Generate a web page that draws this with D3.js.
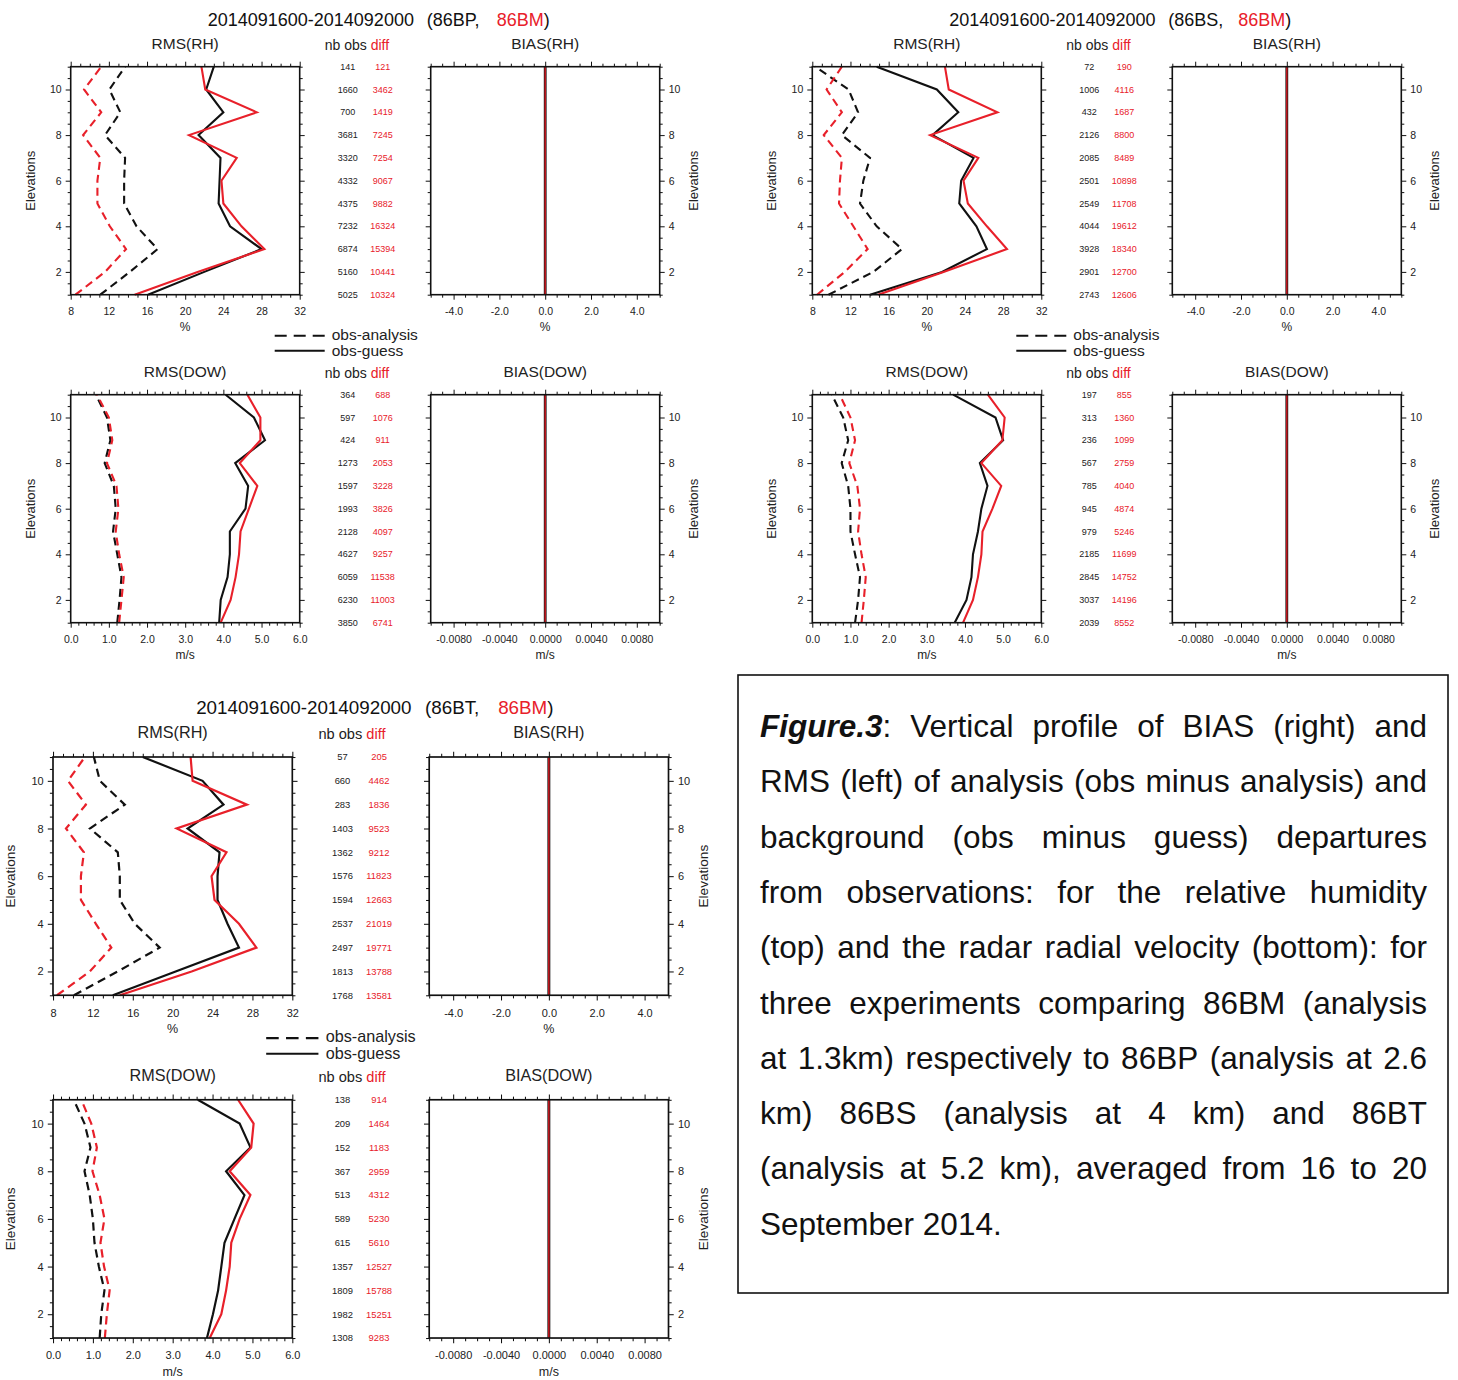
<!DOCTYPE html>
<html>
<head>
<meta charset="utf-8">
<script src="https://cdn.jsdelivr.net/npm/d3@7"></script>
<style>
  body { margin: 0; background: #fff; }
  svg { display: block; }
  text { font-family: "Liberation Sans", Arial, Helvetica, sans-serif; }
</style>
</head>
<body>
<svg id="fig" width="1458" height="1380"></svg>
<script>
// ---------------------------------------------------------------
// Profiles of obs-minus-analysis / obs-minus-guess statistics.
// Every series runs from elevation 1 (bottom) to elevation 11 (top).
// ---------------------------------------------------------------
const elevations = [1, 2, 3, 4, 5, 6, 7, 8, 9, 10, 11];
const period = "2014091600-2014092000";
const refExp = "86BM";
const experiments = ["86BP", "86BS", "86BT"];

// Tick values of the axes
const yMajor = [2, 4, 6, 8, 10];
const rhRmsTicks = [8, 12, 16, 20, 24, 28, 32];
const dowRmsTicks = [0, 1, 2, 3, 4, 5, 6];
const rhBiasTicks = [-4, -2, 0, 2, 4];
const dowBiasTicks = [-0.008, -0.004, 0, 0.004, 0.008];

// ---- 86BP vs 86BM ----
const bpRhAna = [11.1, 14.2, 17.1, 14.9, 13.6, 13.6, 13.7, 11.6, 13.2, 12.05, 13.7];
const bpRhAnaRef = [8.5, 11.6, 13.8, 12.1, 10.8, 10.8, 11.1, 9.3, 11.2, 9.4, 11.2];
const bpRhGue = [16.1, 22.0, 28.0, 24.7, 23.5, 23.6, 23.7, 21.4, 24.0, 22.2, 23.0];
const bpRhGueRef = [14.7, 21.3, 28.3, 25.9, 24.0, 23.8, 25.4, 20.4, 27.5, 22.1, 21.7];
const bpDowAna = [1.22, 1.28, 1.33, 1.22, 1.11, 1.18, 1.13, 0.89, 1.04, 0.95, 0.66];
const bpDowAnaRef = [1.27, 1.33, 1.39, 1.27, 1.18, 1.25, 1.20, 0.95, 1.09, 1.00, 0.69];
const bpDowGue = [3.89, 3.93, 4.11, 4.17, 4.17, 4.58, 4.65, 4.31, 5.09, 4.80, 4.06];
const bpDowGueRef = [3.93, 4.19, 4.32, 4.41, 4.45, 4.67, 4.89, 4.43, 4.97, 4.97, 4.63];
const bpRhNobs = [5025, 5160, 6874, 7232, 4375, 4332, 3320, 3681, 700, 1660, 141];
const bpRhDiff = [10324, 10441, 15394, 16324, 9882, 9067, 7254, 7245, 1419, 3462, 121];
const bpDowNobs = [3850, 6230, 6059, 4627, 2128, 1993, 1597, 1273, 424, 597, 364];
const bpDowDiff = [6741, 11003, 11538, 9257, 4097, 3826, 3228, 2053, 911, 1076, 688];

// ---- 86BS vs 86BM ----
const bsRhAna = [9.7, 14.4, 17.4, 14.75, 13.0, 13.35, 14.05, 11.1, 12.8, 11.8, 8.3];
const bsRhAnaRef = [8.5, 11.4, 13.8, 12.3, 10.8, 10.9, 11.1, 9.2, 11.1, 9.5, 11.1];
const bsRhGue = [14.05, 21.6, 26.3, 25.2, 23.4, 23.6, 24.9, 20.6, 23.3, 21.05, 14.75];
const bsRhGueRef = [14.9, 21.75, 28.4, 26.3, 24.3, 23.85, 25.4, 20.35, 27.4, 22.3, 21.9];
const bsDowAna = [1.12, 1.20, 1.25, 1.12, 1.00, 1.00, 0.94, 0.77, 0.94, 0.81, 0.51];
const bsDowAnaRef = [1.29, 1.35, 1.40, 1.29, 1.20, 1.25, 1.18, 0.97, 1.12, 1.00, 0.72];
const bsDowGue = [3.73, 4.04, 4.17, 4.21, 4.34, 4.43, 4.59, 4.39, 5.00, 4.80, 3.69];
const bsDowGueRef = [3.95, 4.21, 4.34, 4.43, 4.46, 4.72, 4.95, 4.43, 4.98, 5.04, 4.60];
const bsRhNobs = [2743, 2901, 3928, 4044, 2549, 2501, 2085, 2126, 432, 1006, 72];
const bsRhDiff = [12606, 12700, 18340, 19612, 11708, 10898, 8489, 8800, 1687, 4116, 190];
const bsDowNobs = [2039, 3037, 2845, 2185, 979, 945, 785, 567, 236, 313, 197];
const bsDowDiff = [8552, 14196, 14752, 11699, 5246, 4874, 4040, 2759, 1099, 1360, 855];

// ---- 86BT vs 86BM ----
const btRhAna = [10.1, 14.5, 18.7, 16.2, 14.7, 14.7, 14.5, 11.7, 15.2, 12.7, 12.1];
const btRhAnaRef = [8.4, 11.7, 13.85, 12.3, 10.8, 10.8, 11.1, 9.3, 11.3, 9.5, 11.2];
const btRhGue = [14.0, 20.3, 26.65, 25.5, 24.5, 24.5, 24.7, 21.5, 25.1, 23.0, 17.0];
const btRhGueRef = [14.7, 21.9, 28.4, 26.65, 24.2, 23.9, 25.4, 20.4, 27.45, 22.0, 21.8];
const btDowAna = [1.17, 1.21, 1.29, 1.15, 1.04, 1.00, 0.92, 0.79, 0.94, 0.79, 0.52];
const btDowAnaRef = [1.30, 1.35, 1.42, 1.28, 1.19, 1.29, 1.17, 0.99, 1.10, 0.96, 0.71];
const btDowGue = [3.86, 4.01, 4.14, 4.22, 4.30, 4.55, 4.80, 4.34, 4.95, 4.68, 3.63];
const btDowGueRef = [3.93, 4.22, 4.34, 4.43, 4.47, 4.68, 4.95, 4.43, 4.97, 5.03, 4.64];
const btRhNobs = [1768, 1813, 2497, 2537, 1594, 1576, 1362, 1403, 283, 660, 57];
const btRhDiff = [13581, 13788, 19771, 21019, 12663, 11823, 9212, 9523, 1836, 4462, 205];
const btDowNobs = [1308, 1982, 1809, 1357, 615, 589, 513, 367, 152, 209, 138];
const btDowDiff = [9283, 15251, 15788, 12527, 5610, 5230, 4312, 2959, 1183, 1464, 914];

// Biases are zero at every level for both variables and all runs
const zeroBias = [0, 0, 0, 0, 0, 0, 0, 0, 0, 0, 0];

// Caption
const captionLead = "Figure.3";
const captionLines = [
  "Figure.3: Vertical profile of BIAS (right) and",
  "RMS (left) of analysis (obs minus analysis) and",
  "background (obs minus guess) departures",
  "from observations: for the relative humidity",
  "(top) and the radar radial velocity (bottom): for",
  "three experiments comparing 86BM (analysis",
  "at 1.3km) respectively to 86BP (analysis at 2.6",
  "km) 86BS (analysis at 4 km) and 86BT",
  "(analysis at 5.2 km), averaged from 16 to 20",
  "September 2014."
];

// ---------------------------------------------------------------
const RED = "#e8202a";
const INK = "#111";
const W = 229, H = 228;        // plot frame size
const BIAS_X = 360;            // offset of the bias frame
const DOW_Y = 328;             // offset of the velocity block

const svg = d3.select("#fig");
const yScale = d3.scaleLinear().domain([1, 11]).range([H, 0]);
const yMinor = d3.range(1, 11.01, 0.5).filter(v => !yMajor.includes(v));

function minorTicks(lo, hi, step, major) {
  const out = [];
  for (let v = lo; v <= hi + 1e-9; v += step) {
    const r = Math.round(v / step) * step;
    if (!major.some(m => Math.abs(m - r) < step / 10)) out.push(r);
  }
  return out;
}

const specs = {
  rh: {
    rmsTitle: "RMS(RH)", biasTitle: "BIAS(RH)", unit: "%",
    rmsDomain: [8, 32], rmsMajor: rhRmsTicks, rmsMinor: minorTicks(8, 32, 1, rhRmsTicks),
    rmsFmt: d3.format("d"),
    biasDomain: [-5, 5], biasMajor: rhBiasTicks, biasMinor: minorTicks(-5, 5, 0.5, rhBiasTicks),
    biasFmt: v => v.toFixed(1)
  },
  dow: {
    rmsTitle: "RMS(DOW)", biasTitle: "BIAS(DOW)", unit: "m/s",
    rmsDomain: [0, 6], rmsMajor: dowRmsTicks, rmsMinor: minorTicks(0, 6, 0.2, dowRmsTicks),
    rmsFmt: v => v.toFixed(1),
    biasDomain: [-0.01, 0.01], biasMajor: dowBiasTicks, biasMinor: minorTicks(-0.01, 0.01, 0.001, dowBiasTicks),
    biasFmt: v => v.toFixed(4)
  }
};

function styleAxis(sel) {
  sel.select(".domain").remove();
  sel.attr("font-family", null).attr("font-size", 10.5);
  sel.selectAll(".tick line").attr("stroke", INK).attr("stroke-width", 1);
  sel.selectAll(".tick text").attr("fill", "#222");
}

// Frame with outward ticks on all four sides
function drawFrame(g, x, major, minor, fmt, labelSide) {
  const add = (axis, tx, ty) => g.append("g").attr("transform", `translate(${tx},${ty})`).call(axis).call(styleAxis);
  add(d3.axisBottom(x).tickValues(major).tickSize(5).tickSizeOuter(0).tickPadding(8).tickFormat(fmt), 0, H);
  add(d3.axisBottom(x).tickValues(minor).tickSize(3).tickSizeOuter(0).tickFormat(""), 0, H);
  add(d3.axisTop(x).tickValues(major).tickSize(5).tickSizeOuter(0).tickFormat(""), 0, 0);
  add(d3.axisTop(x).tickValues(minor).tickSize(3).tickSizeOuter(0).tickFormat(""), 0, 0);
  add(d3.axisLeft(yScale).tickValues(yMajor).tickSize(5).tickSizeOuter(0).tickPadding(4)
        .tickFormat(labelSide === "left" ? d3.format("d") : ""), 0, 0);
  add(d3.axisLeft(yScale).tickValues(yMinor).tickSize(3).tickSizeOuter(0).tickFormat(""), 0, 0);
  add(d3.axisRight(yScale).tickValues(yMajor).tickSize(5).tickSizeOuter(0).tickPadding(4)
        .tickFormat(labelSide === "right" ? d3.format("d") : ""), W, 0);
  add(d3.axisRight(yScale).tickValues(yMinor).tickSize(3).tickSizeOuter(0).tickFormat(""), W, 0);
  g.append("rect").attr("width", W).attr("height", H)
    .attr("fill", "none").attr("stroke", INK).attr("stroke-width", 1.6);
}

function drawSeries(g, x, values, color, dashed, width) {
  const line = d3.line().x(v => x(v)).y((v, i) => yScale(elevations[i]));
  g.append("path").datum(values).attr("d", line)
    .attr("fill", "none").attr("stroke", color).attr("stroke-width", width || 2.1)
    .attr("stroke-linejoin", "miter")
    .attr("stroke-dasharray", dashed ? "8,5" : null);
}

function elevLabel(g, cx) {
  g.append("text").attr("transform", `translate(${cx},${H / 2}) rotate(-90)`)
    .attr("text-anchor", "middle").attr("font-size", 13).attr("fill", "#222").text("Elevations");
}

function drawBlock(g, spec, d) {
  // RMS frame
  const xr = d3.scaleLinear().domain(spec.rmsDomain).range([0, W]);
  const rms = g.append("g");
  rms.append("text").attr("x", W / 2).attr("y", -18).attr("text-anchor", "middle")
    .attr("font-size", 15.5).attr("fill", "#222").text(spec.rmsTitle);
  drawSeries(rms, xr, d.ana, INK, true);
  drawSeries(rms, xr, d.anaRef, RED, true);
  drawSeries(rms, xr, d.gue, INK, false);
  drawSeries(rms, xr, d.gueRef, RED, false);
  drawFrame(rms, xr, spec.rmsMajor, spec.rmsMinor, spec.rmsFmt, "left");
  rms.append("text").attr("x", W / 2).attr("y", H + 36).attr("text-anchor", "middle")
    .attr("font-size", 12).attr("fill", "#222").text(spec.unit);
  elevLabel(rms, -36);

  // observation counts
  const hdr = g.append("text").attr("x", 254).attr("y", -17).attr("font-size", 14).attr("fill", "#222");
  hdr.append("tspan").text("nb obs ");
  hdr.append("tspan").attr("fill", RED).text("diff");
  g.append("g").selectAll("text").data(d.nobs).join("text")
    .attr("x", 277).attr("y", (v, i) => yScale(elevations[i]) + 3.2)
    .attr("text-anchor", "middle").attr("font-size", 9).attr("fill", "#222").text(v => v);
  g.append("g").selectAll("text").data(d.diff).join("text")
    .attr("x", 312).attr("y", (v, i) => yScale(elevations[i]) + 3.2)
    .attr("text-anchor", "middle").attr("font-size", 9).attr("fill", RED).text(v => v);

  // BIAS frame
  const xb = d3.scaleLinear().domain(spec.biasDomain).range([0, W]);
  const bias = g.append("g").attr("transform", `translate(${BIAS_X},0)`);
  bias.append("text").attr("x", W / 2).attr("y", -18).attr("text-anchor", "middle")
    .attr("font-size", 15.5).attr("fill", "#222").text(spec.biasTitle);
  drawSeries(bias, xb, d.bias, INK, false, 2.8);
  drawSeries(bias, xb, d.biasRef, "#c81820", false, 1.5);
  drawFrame(bias, xb, spec.biasMajor, spec.biasMinor, spec.biasFmt, "right");
  bias.append("text").attr("x", W / 2).attr("y", H + 36).attr("text-anchor", "middle")
    .attr("font-size", 12).attr("fill", "#222").text(spec.unit);
  elevLabel(bias, W + 38);
}

function drawLegend(g) {
  const lg = g.append("g");
  lg.append("line").attr("x1", 204).attr("x2", 254).attr("y1", 269).attr("y2", 269)
    .attr("stroke", INK).attr("stroke-width", 2).attr("stroke-dasharray", "12,7");
  lg.append("line").attr("x1", 204).attr("x2", 254).attr("y1", 284).attr("y2", 284)
    .attr("stroke", INK).attr("stroke-width", 2);
  lg.append("text").attr("x", 261).attr("y", 273).attr("font-size", 15.5).attr("fill", "#222").text("obs-analysis");
  lg.append("text").attr("x", 261).attr("y", 289).attr("font-size", 15.5).attr("fill", "#222").text("obs-guess");
}

function drawPanel(ox, oy, s, exp, rh, dow) {
  const root = svg.append("g").attr("transform", `translate(${ox},${oy}) scale(${s})`);
  const t = root.append("text").attr("y", -41).attr("font-size", 18).attr("fill", "#111");
  t.append("tspan").attr("x", 137).text(period);
  t.append("tspan").attr("x", 356).text(`(${exp},`);
  t.append("tspan").attr("x", 426).attr("fill", RED).text(refExp);
  t.append("tspan").text(")");
  drawBlock(root.append("g"), specs.rh, rh);
  drawLegend(root);
  drawBlock(root.append("g").attr("transform", `translate(0,${DOW_Y})`), specs.dow, dow);
}

drawPanel(70.7, 66.7, 1, experiments[0],
  { ana: bpRhAna, anaRef: bpRhAnaRef, gue: bpRhGue, gueRef: bpRhGueRef, nobs: bpRhNobs, diff: bpRhDiff, bias: zeroBias, biasRef: zeroBias },
  { ana: bpDowAna, anaRef: bpDowAnaRef, gue: bpDowGue, gueRef: bpDowGueRef, nobs: bpDowNobs, diff: bpDowDiff, bias: zeroBias, biasRef: zeroBias });
drawPanel(812.3, 66.7, 1, experiments[1],
  { ana: bsRhAna, anaRef: bsRhAnaRef, gue: bsRhGue, gueRef: bsRhGueRef, nobs: bsRhNobs, diff: bsRhDiff, bias: zeroBias, biasRef: zeroBias },
  { ana: bsDowAna, anaRef: bsDowAnaRef, gue: bsDowGue, gueRef: bsDowGueRef, nobs: bsDowNobs, diff: bsDowDiff, bias: zeroBias, biasRef: zeroBias });
drawPanel(53, 757, 1.045, experiments[2],
  { ana: btRhAna, anaRef: btRhAnaRef, gue: btRhGue, gueRef: btRhGueRef, nobs: btRhNobs, diff: btRhDiff, bias: zeroBias, biasRef: zeroBias },
  { ana: btDowAna, anaRef: btDowAnaRef, gue: btDowGue, gueRef: btDowGueRef, nobs: btDowNobs, diff: btDowDiff, bias: zeroBias, biasRef: zeroBias });

// ---------------- caption box with justified lines ----------------
svg.append("rect").attr("x", 738).attr("y", 675).attr("width", 710).attr("height", 618)
  .attr("fill", "none").attr("stroke", "#111").attr("stroke-width", 1.6);

const capFont = 31.5, capLeft = 760, capRight = 1427, capTop = 737, capStep = 55.3;
const cap = svg.append("g").attr("font-size", capFont).attr("fill", "#111");

function wordParts(w) {
  if (w.startsWith(captionLead)) return [{ t: captionLead, lead: true }, { t: w.slice(captionLead.length) }];
  return [{ t: w }];
}
function addParts(textSel, parts, x) {
  parts.forEach((p, k) => {
    const ts = textSel.append("tspan").text(p.t);
    if (k === 0 && x != null) ts.attr("x", x);
    if (p.lead) ts.attr("font-weight", "bold").attr("font-style", "italic");
  });
}
function measure(parts) {
  const tmp = cap.append("text");
  addParts(tmp, parts, null);
  const w = tmp.node().getComputedTextLength();
  tmp.remove();
  return w;
}

captionLines.forEach((line, i) => {
  const words = line.split(" ").map(wordParts);
  const widths = words.map(measure);
  const total = d3.sum(widths);
  const last = i === captionLines.length - 1;
  const gap = last ? capFont * 0.278 : (capRight - capLeft - total) / (words.length - 1);
  const t = cap.append("text").attr("y", capTop + i * capStep);
  let x = capLeft;
  words.forEach((parts, k) => {
    addParts(t, parts, x);
    x += widths[k] + gap;
  });
});
</script>
</body>
</html>
